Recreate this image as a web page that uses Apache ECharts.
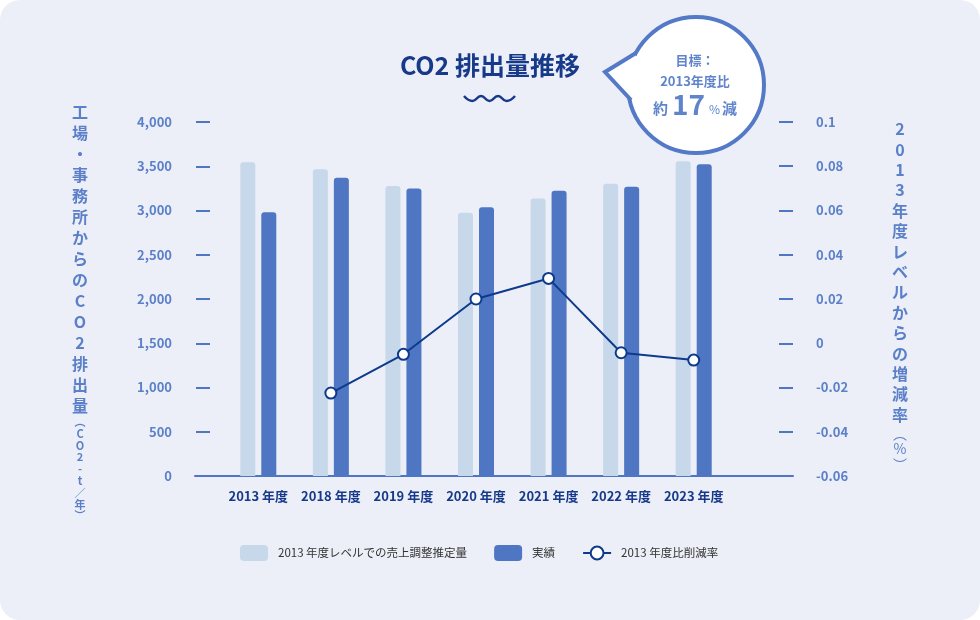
<!DOCTYPE html>
<html>
<head>
<meta charset="utf-8">
<script src="https://cdn.jsdelivr.net/npm/echarts@6/dist/echarts.min.js"></script>
<style>
html,body{margin:0;padding:0;background:#ffffff;}
#chart{width:980px;height:620px;background:#ECEFF7;border-radius:20px;overflow:hidden;}
</style>
</head>
<body>
<div id="chart"></div>
<script>
// ---- data ----
var categories = ['2013 年度','2018 年度','2019 年度','2020 年度','2021 年度','2022 年度','2023 年度'];
var estimated = [3545, 3466, 3277, 2975, 3137, 3303, 3556];   // 2013年度レベルでの売上調整推定量
var actual    = [2980, 3371, 3250, 3036, 3224, 3269, 3522];   // 実績
var reduction = [null, -0.0225, -0.005, 0.020, 0.0293, -0.0043, -0.0076]; // 2013年度比削減率
var leftTicks = {min: 0, max: 4000, interval: 500};
var rightTicks = {min: -0.06, max: 0.1, interval: 0.02};
var seriesNames = ['2013 年度レベルでの売上調整推定量', '実績', '2013 年度比削減率'];

var FONT = '"Noto Sans CJK JP", "Noto Sans", sans-serif';
var AXIS_C = '#5B80C9';
var TICK_C = '#4F76C2';
var NAVY = '#17398A';
var LINE_C = '#0E3A8C';
var LIGHT = '#C7D8EA';
var DARK = '#4E76C3';

var chart = echarts.init(document.getElementById('chart'), null, {renderer: 'canvas'});

var leftName = '{b|工}\n{b|場}\n{b|・}\n{b|事}\n{b|務}\n{b|所}\n{b|か}\n{b|ら}\n{b|の}\n{b|C}\n{b|O}\n{b|2}\n{b|排}\n{b|出}\n{b|量}\n{s|︵}\n{s|C}\n{s|O}\n{s|2}\n{s|-}\n{s|t}\n{s|／}\n{s|年}\n{s|︶}';
var rightName = '{b|2}\n{b|0}\n{b|1}\n{b|3}\n{b|年}\n{b|度}\n{b|レ}\n{b|ベ}\n{b|ル}\n{b|か}\n{b|ら}\n{b|の}\n{b|増}\n{b|減}\n{b|率}\n{q|︵}\n{p|%}\n{q|︶}';

var option = {
  backgroundColor: 'transparent',
  textStyle: {fontFamily: FONT},
  animation: false,
  grid: [
    {left: 222, right: 250, top: 122, bottom: 144},
    {left: 195, right: 187, top: 122, bottom: 144}
  ],
  legend: {
    left: 240, top: 545, padding: 0,
    itemWidth: 28, itemHeight: 16, itemGap: 27,
    textStyle: {color: '#333', fontSize: 11.5, fontFamily: FONT, padding: [0, 0, 0, 5]},
    data: [
      {name: seriesNames[0], icon: 'roundRect'},
      {name: seriesNames[1], icon: 'roundRect'},
      {name: seriesNames[2]}
    ]
  },
  xAxis: [
    {
      type: 'category', gridIndex: 0, data: categories,
      axisLine: {show: false}, axisTick: {show: false},
      axisLabel: {interval: 0, color: NAVY, fontSize: 13, fontWeight: 'bold', margin: 14, fontFamily: FONT}
    },
    {
      type: 'value', gridIndex: 1, min: 0, max: 1,
      axisLine: {show: true, lineStyle: {color: TICK_C, width: 2}},
      axisTick: {show: false}, axisLabel: {show: false}, splitLine: {show: false}
    }
  ],
  yAxis: [
    {
      type: 'value', gridIndex: 0, position: 'left', offset: 12,
      min: leftTicks.min, max: leftTicks.max, interval: leftTicks.interval,
      axisLine: {show: false},
      axisTick: {show: true, length: 14, lineStyle: {color: TICK_C, width: 2}},
      splitLine: {show: false},
      axisLabel: {color: AXIS_C, fontSize: 13, fontWeight: 'bold', margin: 38, fontFamily: FONT,
        formatter: function (v) { return v.toLocaleString('en-US'); }}
    },
    {
      type: 'value', gridIndex: 0, position: 'right', offset: 49,
      min: rightTicks.min, max: rightTicks.max, interval: rightTicks.interval,
      axisLine: {show: false},
      axisTick: {show: true, length: 14, lineStyle: {color: TICK_C, width: 2}},
      splitLine: {show: false},
      axisLabel: {color: AXIS_C, fontSize: 13, fontWeight: 'bold', margin: 37, fontFamily: FONT,
        formatter: function (v) { return String(parseFloat(v.toFixed(2))); }}
    },
    {
      type: 'value', gridIndex: 1, show: false, min: 0, max: 1
    }
  ],
  series: [
    {
      name: seriesNames[0], type: 'bar', xAxisIndex: 0, yAxisIndex: 0,
      data: estimated, barWidth: 15, barGap: '40%',
      itemStyle: {color: LIGHT, borderRadius: [3, 3, 0, 0]}
    },
    {
      name: seriesNames[1], type: 'bar', xAxisIndex: 0, yAxisIndex: 0,
      data: actual, barWidth: 15, barGap: '40%',
      itemStyle: {color: DARK, borderRadius: [3, 3, 0, 0]}
    },
    {
      name: seriesNames[2], type: 'line', xAxisIndex: 0, yAxisIndex: 1,
      data: reduction, symbol: 'circle', symbolSize: 11, connectNulls: false,
      lineStyle: {color: LINE_C, width: 2},
      itemStyle: {color: '#ffffff', borderColor: LINE_C, borderWidth: 2},
      z: 5
    }
  ],
  graphic: [
    // title
    {type: 'text', x: 490, y: 65, style: {
      text: 'CO2 排出量推移', fill: NAVY, font: 'bold 25px ' + FONT, textAlign: 'center', textVerticalAlign: 'middle'
    }},
    // wavy underline
    {type: 'polyline', shape: {smooth: 0.5, points: [[464,96],[472.5,101],[481,96],[489.5,101],[498,96],[506.5,101],[515,96]]},
      style: {stroke: NAVY, lineWidth: 2.5, fill: null}},
    // left axis name
    {type: 'text', x: 80, y: 101, style: {
      text: leftName, textAlign: 'center', textVerticalAlign: 'top', fill: AXIS_C,
      rich: {
        b: {fontSize: 16, fontWeight: 'bold', lineHeight: 21, fill: AXIS_C, fontFamily: FONT, align: 'center'},
        s: {fontSize: 11, fontWeight: 'bold', lineHeight: 11.8, fill: AXIS_C, fontFamily: FONT, align: 'center'}
      }
    }},
    // right axis name
    {type: 'text', x: 900, y: 119, style: {
      text: rightName, textAlign: 'center', textVerticalAlign: 'top', fill: AXIS_C,
      rich: {
        b: {fontSize: 16, fontWeight: 'bold', lineHeight: 20.4, fill: AXIS_C, fontFamily: FONT, align: 'center'},
        p: {fontSize: 14, lineHeight: 14, fill: AXIS_C, fontFamily: FONT, align: 'center'},
        q: {fontSize: 14, lineHeight: 17, fill: AXIS_C, fontFamily: FONT, align: 'center'}
      }
    }},
    // speech bubble
    {type: 'circle', shape: {cx: 696, cy: 85, r: 68}, style: {fill: '#ffffff', stroke: '#5479C6', lineWidth: 4}, z: 10},
    {type: 'polygon', shape: {points: [[606,72],[635,54],[648,76],[631,99]]}, style: {fill: '#ffffff'}, z: 11},
    {type: 'polyline', shape: {points: [[636,53],[605,72],[631,100]]}, style: {stroke: '#5479C6', lineWidth: 4, fill: null, lineJoin: 'miter'}, z: 12},
    {type: 'text', x: 695, y: 60, z: 13, style: {
      text: '目標：', textAlign: 'center', textVerticalAlign: 'middle', fill: '#5F84CC', font: 'bold 13px ' + FONT
    }},
    {type: 'text', x: 695, y: 81, z: 13, style: {
      text: '2013年度比', textAlign: 'center', textVerticalAlign: 'middle', fill: '#5F84CC', font: 'bold 13px ' + FONT
    }},
    {type: 'text', x: 695, y: 104, z: 13, style: {
      text: '{s|約}{b|17}{p|%}{s|減}', textAlign: 'center', textVerticalAlign: 'middle',
      rich: {
        s: {fontSize: 15, fontWeight: 'bold', fill: '#5F84CC', fontFamily: FONT, verticalAlign: 'bottom', padding: [0, 1, 2, 1]},
        b: {fontSize: 28, fontWeight: 'bold', fill: '#5F84CC', fontFamily: FONT, verticalAlign: 'bottom', padding: [0, 3, 0, 3]},
        p: {fontSize: 12, fill: '#5F84CC', fontFamily: FONT, verticalAlign: 'bottom', padding: [0, 1, 3, 1]}
      }
    }}
  ]
};
chart.setOption(option);
</script>
</body>
</html>
